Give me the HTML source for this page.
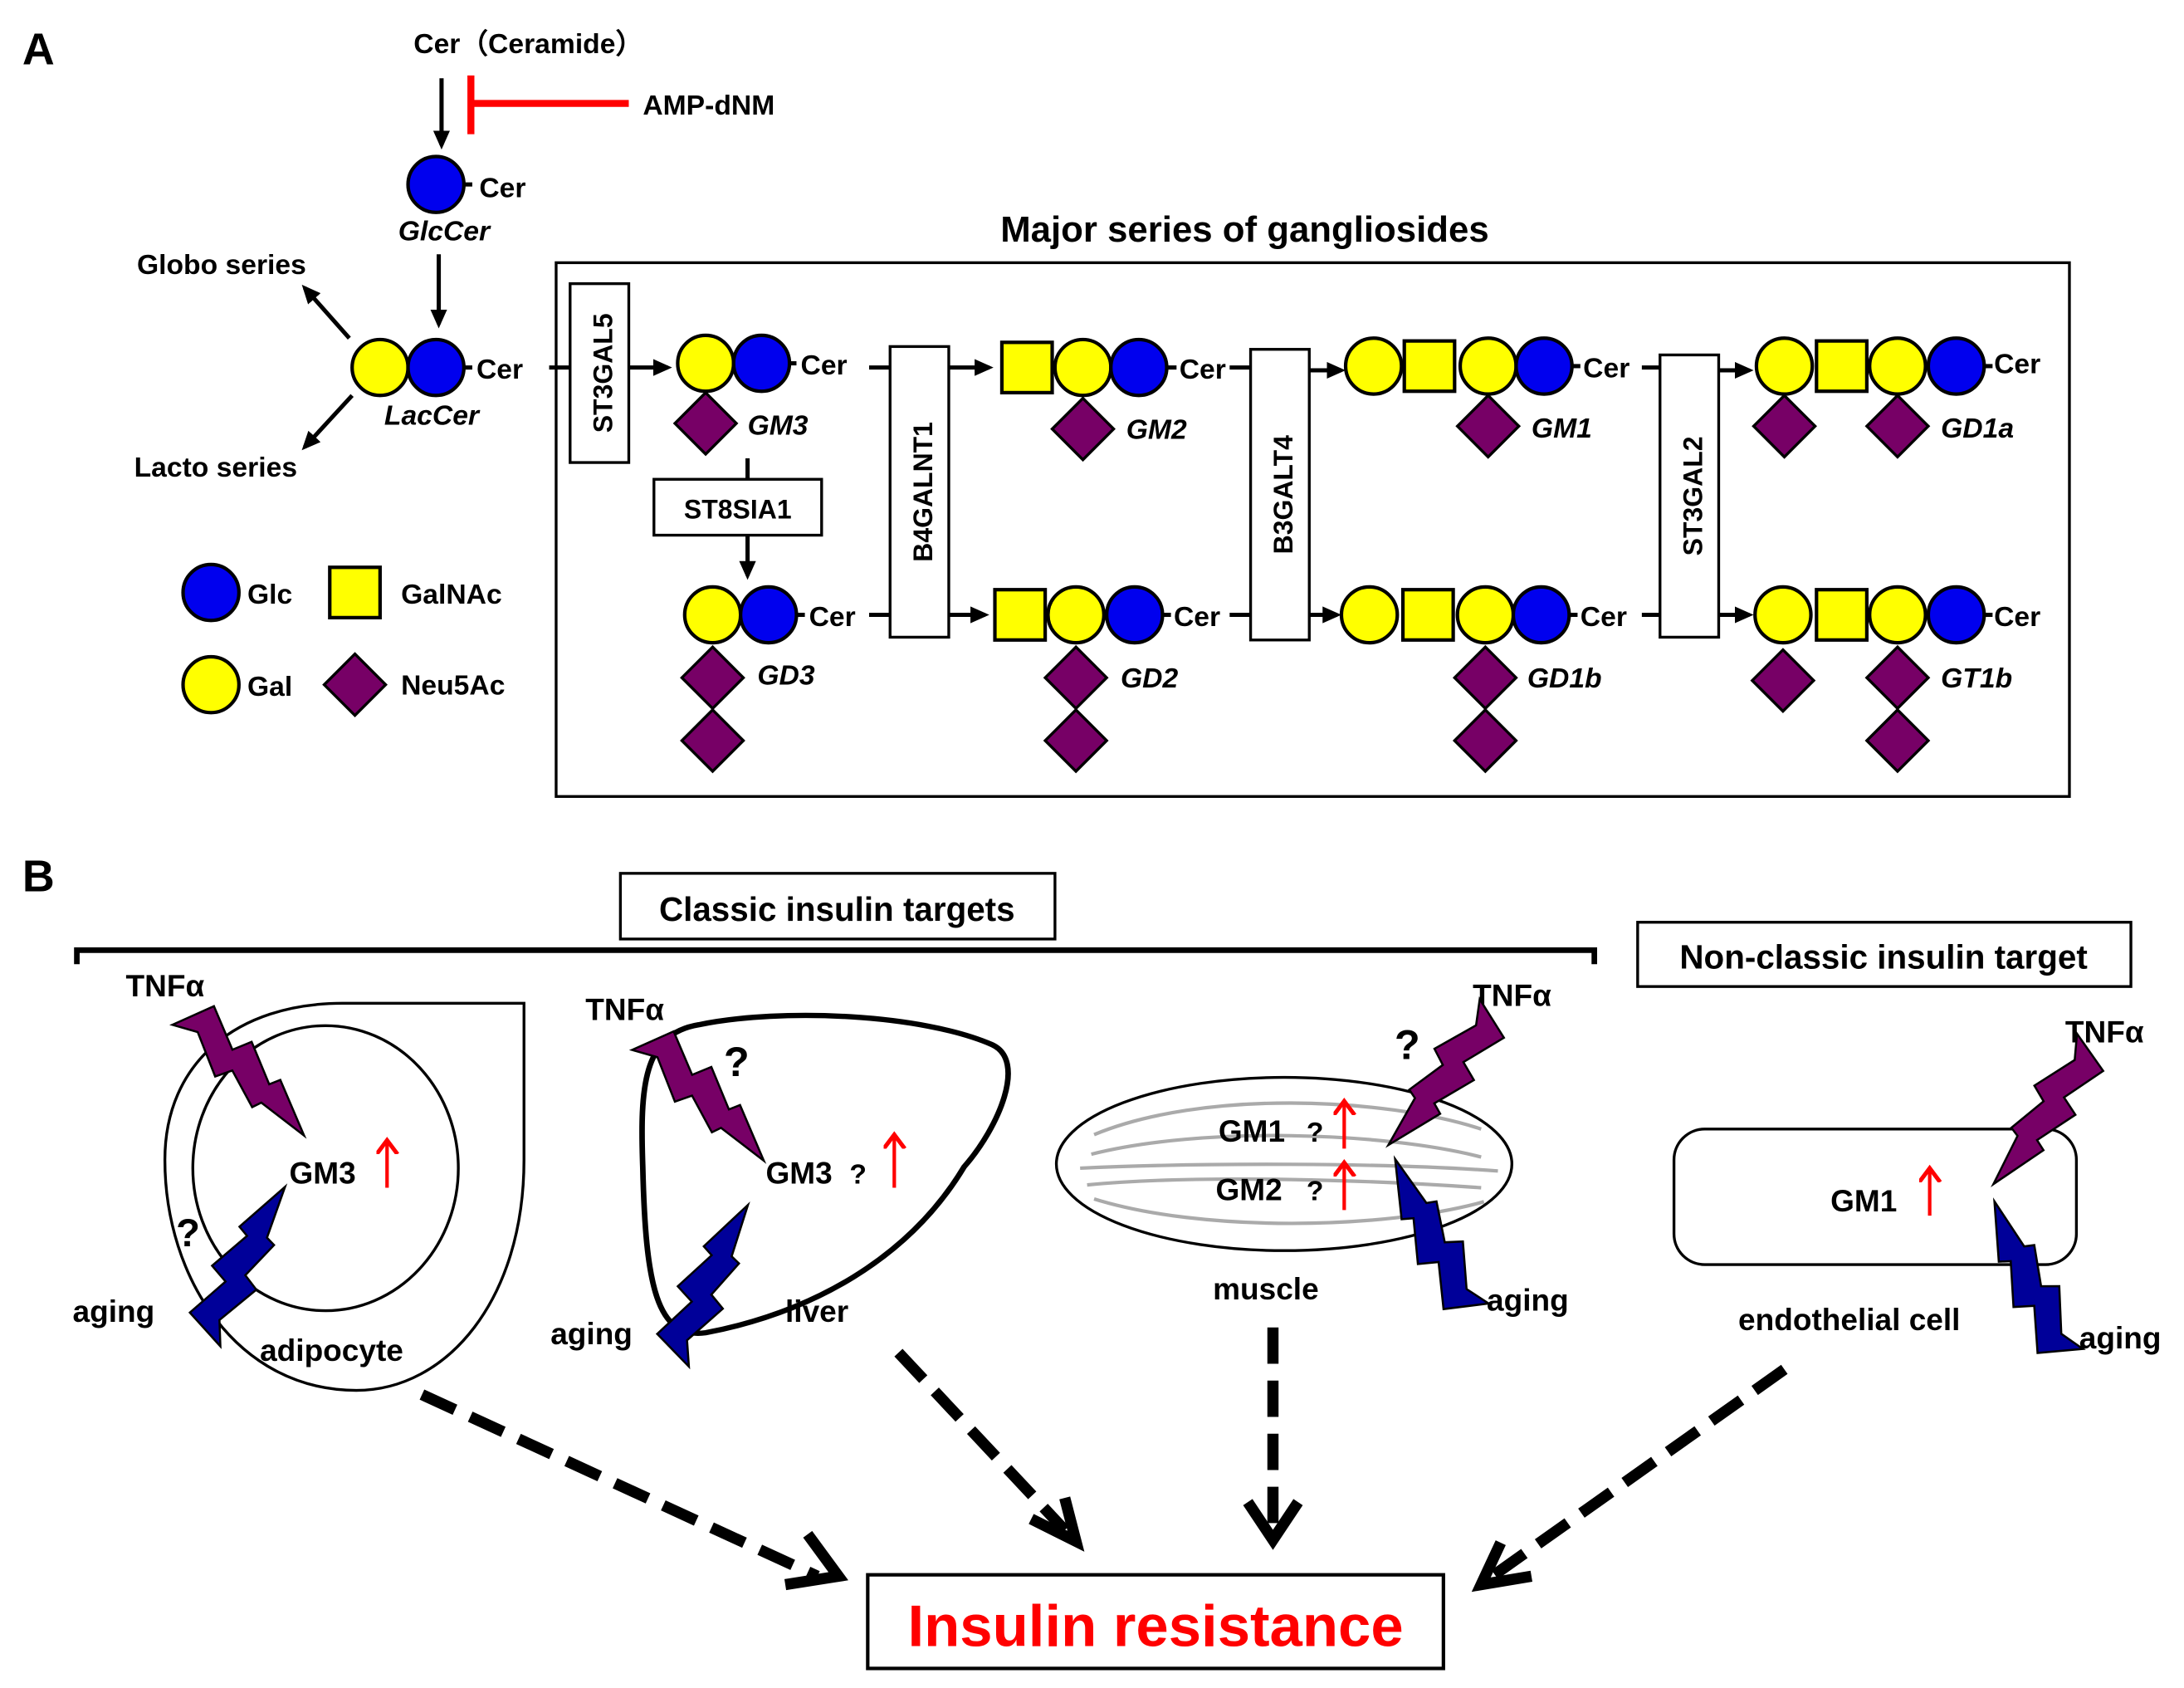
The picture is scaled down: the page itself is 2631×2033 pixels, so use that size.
<!DOCTYPE html>
<html><head><meta charset="utf-8"><style>
html,body{margin:0;padding:0;background:#fff}
svg{display:block}
text{font-family:"Liberation Sans",Arial,sans-serif;font-weight:bold;fill:#000}
</style></head><body>
<svg width="2631" height="2033" viewBox="0 0 1563 1208" preserveAspectRatio="none" xmlns="http://www.w3.org/2000/svg">
<defs>
<marker id="ah" markerWidth="6" markerHeight="6" refX="3.5" refY="2" orient="auto" markerUnits="strokeWidth"><path d="M0,0 L4.5,2 L0,4 z" fill="#000"/></marker>
<marker id="ob" markerWidth="8" markerHeight="8" refX="4" refY="3" orient="auto" markerUnits="strokeWidth"><path d="M0,0 L4,3 L0,6" fill="none" stroke="#f00" stroke-width="1.2"/></marker>
<circle id="glc" r="20" fill="#0000ee" stroke="#000" stroke-width="2.5"/>
<circle id="gal" r="20" fill="#ffff00" stroke="#000" stroke-width="2.5"/>
<rect id="sq" x="-18" y="-18" width="36" height="36" fill="#ffff00" stroke="#000" stroke-width="2.5"/>
<polygon id="dm" points="0,-22 22,0 0,22 -22,0" fill="#770066" stroke="#000" stroke-width="2"/>
<polygon id="bolt" points="-17,0 14,10 3,42 17,47 6,78 14,81 0,122 -7,84 -14,82 -7,53 -19,48 -7,16" stroke="#000" stroke-width="1.5"/>
</defs>

<!-- Panel A -->
<text x="16" y="46" font-size="32">A</text>
<text x="296" y="38" font-size="20">Cer（Ceramide）</text>
<line x1="316" y1="56" x2="316" y2="104" stroke="#000" stroke-width="3" marker-end="url(#ah)"/>
<line x1="337" y1="54" x2="337" y2="96" stroke="#f00" stroke-width="5"/>
<line x1="337" y1="74" x2="450" y2="74" stroke="#f00" stroke-width="5"/>
<text x="460" y="82" font-size="20">AMP-dNM</text>
<use href="#glc" x="312" y="132"/>
<line x1="332" y1="132" x2="338" y2="132" stroke="#000" stroke-width="3"/>
<text x="343" y="141" font-size="20">Cer</text>
<text x="285" y="172" font-size="20" font-style="italic">GlcCer</text>
<line x1="314" y1="182" x2="314" y2="232" stroke="#000" stroke-width="3" marker-end="url(#ah)"/>
<text x="98" y="196" font-size="20">Globo series</text>
<line x1="250" y1="242" x2="218" y2="206" stroke="#000" stroke-width="3" marker-end="url(#ah)"/>
<text x="96" y="341" font-size="20">Lacto series</text>
<line x1="252" y1="283" x2="218" y2="320" stroke="#000" stroke-width="3" marker-end="url(#ah)"/>
<use href="#gal" x="272" y="263"/><use href="#glc" x="312" y="263"/>
<line x1="332" y1="263" x2="338" y2="263" stroke="#000" stroke-width="3"/>
<text x="341" y="271" font-size="20">Cer</text>
<text x="275" y="304" font-size="20" font-style="italic">LacCer</text>

<!-- legend -->
<use href="#glc" x="151" y="424"/><text x="177" y="432" font-size="20">Glc</text>
<rect x="236" y="406" width="36" height="36" fill="#ff0" stroke="#000" stroke-width="2.5"/><text x="287" y="432" font-size="20">GalNAc</text>
<use href="#gal" x="151" y="490"/><text x="177" y="498" font-size="20">Gal</text>
<use href="#dm" x="254" y="490"/><text x="287" y="497" font-size="20">Neu5Ac</text>

<text x="716" y="173" font-size="26">Major series of gangliosides</text>
<rect x="398" y="188" width="1083" height="382" fill="none" stroke="#000" stroke-width="2"/>

<!-- enzymes -->
<rect x="408" y="203" width="42" height="128" fill="#fff" stroke="#000" stroke-width="2"/>
<text transform="translate(438,267) rotate(-90)" text-anchor="middle" font-size="19">ST3GAL5</text>
<rect x="468" y="343" width="120" height="40" fill="#fff" stroke="#000" stroke-width="2"/>
<text x="528" y="371" text-anchor="middle" font-size="19">ST8SIA1</text>
<rect x="637" y="248" width="42" height="208" fill="#fff" stroke="#000" stroke-width="2"/>
<text transform="translate(667,352) rotate(-90)" text-anchor="middle" font-size="19">B4GALNT1</text>
<rect x="895" y="250" width="42" height="208" fill="#fff" stroke="#000" stroke-width="2"/>
<text transform="translate(925,354) rotate(-90)" text-anchor="middle" font-size="19">B3GALT4</text>
<rect x="1188" y="254" width="42" height="202" fill="#fff" stroke="#000" stroke-width="2"/>
<text transform="translate(1218,355) rotate(-90)" text-anchor="middle" font-size="19">ST3GAL2</text>

<!-- arrows between -->
<g stroke="#000" stroke-width="3">
<line x1="393" y1="263" x2="408" y2="263"/>
<line x1="450" y1="263" x2="478" y2="263" marker-end="url(#ah)"/>
<line x1="622" y1="263" x2="637" y2="263"/>
<line x1="679" y1="263" x2="708" y2="263" marker-end="url(#ah)"/>
<line x1="622" y1="440" x2="637" y2="440"/>
<line x1="679" y1="440" x2="705" y2="440" marker-end="url(#ah)"/>
<line x1="880" y1="263" x2="895" y2="263"/>
<line x1="937" y1="265" x2="960" y2="265" marker-end="url(#ah)"/>
<line x1="880" y1="440" x2="895" y2="440"/>
<line x1="937" y1="440" x2="957" y2="440" marker-end="url(#ah)"/>
<line x1="1175" y1="263" x2="1188" y2="263"/>
<line x1="1230" y1="265" x2="1252" y2="265" marker-end="url(#ah)"/>
<line x1="1175" y1="440" x2="1188" y2="440"/>
<line x1="1230" y1="440" x2="1252" y2="440" marker-end="url(#ah)"/>
<line x1="535" y1="328" x2="535" y2="343"/>
<line x1="535" y1="383" x2="535" y2="412" marker-end="url(#ah)"/>
</g>

<!-- GM3 -->
<use href="#dm" x="505" y="303"/>
<use href="#gal" x="505" y="260"/><use href="#glc" x="545" y="260"/>
<line x1="565" y1="260" x2="570" y2="260" stroke="#000" stroke-width="3"/>
<text x="573" y="268" font-size="20">Cer</text>
<text x="535" y="311" font-size="20" font-style="italic">GM3</text>
<!-- GD3 -->
<use href="#dm" x="510" y="530"/><use href="#dm" x="510" y="485"/>
<use href="#gal" x="510" y="440"/><use href="#glc" x="550" y="440"/>
<line x1="570" y1="440" x2="576" y2="440" stroke="#000" stroke-width="3"/>
<text x="579" y="448" font-size="20">Cer</text>
<text x="542" y="490" font-size="20" font-style="italic">GD3</text>
<!-- GM2 -->
<use href="#dm" x="775" y="307"/>
<use href="#sq" x="735" y="263"/><use href="#gal" x="775" y="263"/><use href="#glc" x="815" y="263"/>
<line x1="835" y1="263" x2="842" y2="263" stroke="#000" stroke-width="3"/>
<text x="844" y="271" font-size="20">Cer</text>
<text x="806" y="314" font-size="20" font-style="italic">GM2</text>
<!-- GD2 -->
<use href="#dm" x="770" y="530"/><use href="#dm" x="770" y="485"/>
<use href="#sq" x="730" y="440"/><use href="#gal" x="770" y="440"/><use href="#glc" x="812" y="440"/>
<line x1="832" y1="440" x2="838" y2="440" stroke="#000" stroke-width="3"/>
<text x="840" y="448" font-size="20">Cer</text>
<text x="802" y="492" font-size="20" font-style="italic">GD2</text>
<!-- GM1 -->
<use href="#dm" x="1065" y="305"/>
<use href="#gal" x="983" y="262"/><use href="#sq" x="1023" y="262"/><use href="#gal" x="1065" y="262"/><use href="#glc" x="1105" y="262"/>
<line x1="1125" y1="262" x2="1131" y2="262" stroke="#000" stroke-width="3"/>
<text x="1133" y="270" font-size="20">Cer</text>
<text x="1096" y="313" font-size="20" font-style="italic">GM1</text>
<!-- GD1b -->
<use href="#dm" x="1063" y="530"/><use href="#dm" x="1063" y="485"/>
<use href="#gal" x="980" y="440"/><use href="#sq" x="1022" y="440"/><use href="#gal" x="1063" y="440"/><use href="#glc" x="1103" y="440"/>
<line x1="1123" y1="440" x2="1129" y2="440" stroke="#000" stroke-width="3"/>
<text x="1131" y="448" font-size="20">Cer</text>
<text x="1093" y="492" font-size="20" font-style="italic">GD1b</text>
<!-- GD1a -->
<use href="#dm" x="1277" y="305"/><use href="#dm" x="1358" y="305"/>
<use href="#gal" x="1277" y="262"/><use href="#sq" x="1318" y="262"/><use href="#gal" x="1358" y="262"/><use href="#glc" x="1400" y="262"/>
<line x1="1420" y1="262" x2="1426" y2="262" stroke="#000" stroke-width="3"/>
<text x="1427" y="267" font-size="20">Cer</text>
<text x="1389" y="313" font-size="20" font-style="italic">GD1a</text>
<!-- GT1b -->
<use href="#dm" x="1276" y="487"/><use href="#dm" x="1358" y="530"/><use href="#dm" x="1358" y="485"/>
<use href="#gal" x="1276" y="440"/><use href="#sq" x="1318" y="440"/><use href="#gal" x="1358" y="440"/><use href="#glc" x="1400" y="440"/>
<line x1="1420" y1="440" x2="1426" y2="440" stroke="#000" stroke-width="3"/>
<text x="1427" y="448" font-size="20">Cer</text>
<text x="1389" y="492" font-size="20" font-style="italic">GT1b</text>

<!-- Panel B -->
<text x="16" y="638" font-size="32">B</text>
<rect x="444" y="625" width="311" height="47" fill="none" stroke="#000" stroke-width="2"/>
<text x="599" y="659" text-anchor="middle" font-size="24">Classic insulin targets</text>
<path d="M55,690 V680 H1141 V690" fill="none" stroke="#000" stroke-width="4"/>
<rect x="1172" y="660" width="353" height="46" fill="none" stroke="#000" stroke-width="2"/>
<text x="1348" y="693" text-anchor="middle" font-size="24">Non-classic insulin target</text>

<!-- adipocyte -->
<path d="M245,718 H375 V830 C375,930 320,995 255,995 C170,995 118,915 118,830 C118,760 170,718 245,718 Z" fill="none" stroke="#000" stroke-width="2"/>
<ellipse cx="233" cy="836" rx="95" ry="102" fill="none" stroke="#000" stroke-width="2"/>
<text x="207" y="847" font-size="22">GM3</text>
<line x1="277" y1="850" x2="277" y2="816" stroke="#f00" stroke-width="2.5" marker-end="url(#ob)"/>
<text x="90" y="713" font-size="22">TNFα</text>
<use href="#bolt" fill="#770066" transform="translate(136,722) rotate(-42)"/>
<text x="126" y="892" font-size="28">?</text>
<use href="#bolt" fill="#000099" transform="translate(143,955) rotate(-150)"/>
<text x="52" y="946" font-size="22">aging</text>
<text x="186" y="974" font-size="22">adipocyte</text>

<!-- liver -->
<path d="M500,793 C560,780 660,785 710,808 C735,820 715,870 690,900 C650,970 580,1010 505,1025 C470,1030 462,990 460,900 C458,840 460,800 500,793 Z" transform="translate(0,-20) scale(1,0.95)" fill="none" stroke="#000" stroke-width="4"/>
<text x="419" y="730" font-size="22">TNFα</text>
<use href="#bolt" fill="#770066" transform="translate(465,740) rotate(-42)"/>
<text x="518" y="770" font-size="30">?</text>
<text x="548" y="847" font-size="22">GM3</text>
<text x="608" y="847" font-size="20" font-weight="normal">?</text>
<line x1="640" y1="850" x2="640" y2="812" stroke="#f00" stroke-width="2.5" marker-end="url(#ob)"/>
<use href="#bolt" fill="#000099" transform="translate(478,970) rotate(-152)"/>
<text x="394" y="962" font-size="22">aging</text>
<text x="562" y="946" font-size="22">liver</text>

<!-- muscle -->
<ellipse cx="919" cy="833" rx="163" ry="62" fill="none" stroke="#000" stroke-width="2"/>
<g stroke="#aaa" stroke-width="2.5" fill="none">
<path d="M783,812 C860,780 990,785 1060,808"/>
<path d="M781,826 C860,806 990,810 1060,828"/>
<path d="M773,836 C860,832 990,832 1072,838"/>
<path d="M778,848 C860,840 990,845 1060,850"/>
<path d="M783,858 C860,882 990,880 1062,860"/>
</g>
<text x="872" y="817" font-size="22">GM1</text><text x="935" y="817" font-size="20" font-weight="normal">?</text>
<line x1="962" y1="822" x2="962" y2="788" stroke="#f00" stroke-width="2.5" marker-end="url(#ob)"/>
<text x="870" y="859" font-size="22">GM2</text><text x="935" y="859" font-size="20" font-weight="normal">?</text>
<line x1="962" y1="866" x2="962" y2="832" stroke="#f00" stroke-width="2.5" marker-end="url(#ob)"/>
<text x="1054" y="720" font-size="22">TNFα</text>
<text x="998" y="758" font-size="30">?</text>
<use href="#bolt" fill="#770066" transform="translate(1072,726) rotate(40)"/>
<use href="#bolt" fill="#000099" transform="translate(1050,940) rotate(155)"/>
<text x="1064" y="938" font-size="22">aging</text>
<text x="868" y="930" font-size="22">muscle</text>

<!-- endothelial -->
<rect x="1198" y="808" width="288" height="97" rx="22" fill="none" stroke="#000" stroke-width="2"/>
<text x="1310" y="867" font-size="22">GM1</text>
<line x1="1381" y1="870" x2="1381" y2="836" stroke="#f00" stroke-width="2.5" marker-end="url(#ob)"/>
<text x="1478" y="746" font-size="22">TNFα</text>
<use href="#bolt" fill="#770066" transform="translate(1500,750) rotate(37)"/>
<use href="#bolt" fill="#000099" transform="translate(1475,972) rotate(157)"/>
<text x="1244" y="952" font-size="22">endothelial cell</text>
<text x="1488" y="965" font-size="22">aging</text>

<!-- dashed arrows -->
<g stroke="#000" stroke-width="8" fill="none">
<line x1="302" y1="998" x2="585" y2="1128" stroke-dasharray="26,12"/>
<path d="M562,1134 L600,1128 L578,1098"/>
<line x1="643" y1="968" x2="762" y2="1095" stroke-dasharray="26,12"/>
<path d="M738,1087 L770,1103 L762,1072"/>
<line x1="911" y1="950" x2="911" y2="1098" stroke-dasharray="26,12"/>
<path d="M893,1075 L911,1102 L929,1075"/>
<line x1="1277" y1="980" x2="1068" y2="1128" stroke-dasharray="26,12"/>
<path d="M1074,1104 L1060,1134 L1096,1128"/>
</g>
<rect x="621" y="1127" width="412" height="67" fill="#fff" stroke="#000" stroke-width="2.5"/>
<text x="827" y="1178" text-anchor="middle" font-size="42" style="fill:#f00">Insulin resistance</text>
</svg>
</body></html>
